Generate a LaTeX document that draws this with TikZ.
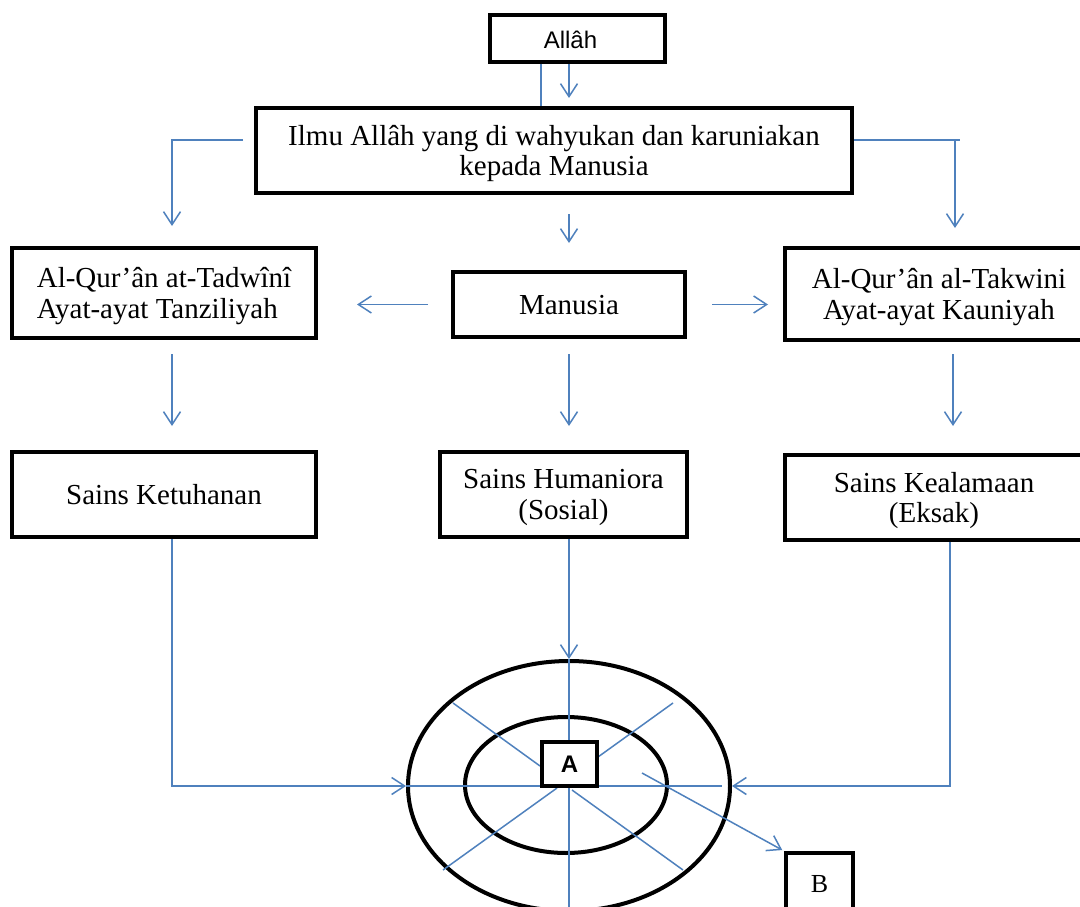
\documentclass[tikz,border=0pt]{standalone}
\usepackage{fontspec}
\setmainfont{Liberation Serif}
\newfontfamily\arialf{Liberation Sans}
\usetikzlibrary{arrows.meta,calc,shapes.geometric}
\definecolor{lineblue}{RGB}{79,129,189}
\begin{document}
\begin{tikzpicture}[x=1pt,y=-1pt,
  box/.style={draw=black,line width=4pt,inner sep=0pt,align=center,text depth=0pt,
    font=\fontsize{29}{30.5}\selectfont},
  ring/.style={draw=black,line width=4pt,ellipse,inner sep=0pt},
  bl/.style={draw=lineblue,line width=1.5pt},
  arr/.style={bl,-{Straight Barb[length=13pt,width=17pt,line width=1.5pt]}}]
\useasboundingbox (0,0) rectangle (1080,907);
\clip (0,0) rectangle (1080,907);
\fill[white] (0,0) rectangle (1080,907);

% boxes
\node[box,minimum width=175pt,minimum height=47pt,font=\arialf\fontsize{24}{28}\selectfont] (allah) at (577.5,38.5) {\hspace*{-14pt}\raisebox{-3pt}{Allâh}};
\node[box,minimum width=596pt,minimum height=85pt] (ilmu) at (554,150.5) {Ilmu Allâh yang di wahyukan dan karuniakan\\kepada Manusia};
\node[box,minimum width=304pt,minimum height=90pt,align=left] (tadwini) at (164,293) {Al-Qur’ân at-Tadwînî\\Ayat-ayat Tanziliyah};
\node[box,minimum width=232pt,minimum height=65pt] (manusia) at (569,304.5) {Manusia};
\node[box,minimum width=308pt,minimum height=92pt] (takwini) at (939,294) {Al-Qur’ân al-Takwini\\Ayat-ayat Kauniyah};
\node[box,minimum width=304pt,minimum height=85pt] (ketuhanan) at (164,494.5) {Sains Ketuhanan};
\node[box,minimum width=247pt,minimum height=85pt] (humaniora) at (563.5,494.5) {Sains Humaniora\\(Sosial)};
\node[box,minimum width=298pt,minimum height=85pt] (kealamaan) at (934,497.5) {Sains Kealamaan\\(Eksak)};
\node[box,minimum width=67pt,minimum height=66pt,font=\fontsize{26}{30}\selectfont] (B) at (819.5,886) {\raisebox{4pt}{B}};

% rings
\node[ring,minimum width=322pt,minimum height=250pt] (outer) at (569,786) {};
\node[ring,minimum width=202pt,minimum height=136pt] (inner) at (566,785) {};

% helper coordinates
\coordinate (xA) at (541,0);
\coordinate (xM) at (569,0);
\coordinate (xL) at (172,0);
\coordinate (xR) at (955,0);
\coordinate (xT) at (953,0);
\coordinate (xK) at (950,0);
\coordinate (yT) at (0,140);
\coordinate (l1) at (243,140);
\coordinate (r1) at (960,140);
\coordinate (bot) at (569,915);
\coordinate (hEnd) at (722,786);
\coordinate (d1a) at (453,703);
\coordinate (d1b) at (540,766);
\coordinate (d2a) at (673,703);
\coordinate (d2b) at (598,757);
\coordinate (d3a) at (557,788);
\coordinate (d3b) at (443,870);
\coordinate (d4a) at (572,790);
\coordinate (d4b) at (683,870);
\coordinate (bs) at (642,773);

% connectors, top part
\draw[bl] (allah.south -| xA) -- (ilmu.north -| xA);
\draw[arr,shorten >=8pt] (allah.south -| xM) -- (ilmu.north -| xM);
\draw[arr,shorten >=20pt] (l1) -| (tadwini.north -| xL);
\draw[bl] (ilmu.east |- yT) -- (r1);
\draw[arr,shorten >=18pt] (xR |- yT) -- (takwini.north -| xR);
\draw[arr,shorten <=19pt,shorten >=27pt] (ilmu.south -| xM) -- (manusia.north -| xM);
\draw[arr,shorten <=23pt,shorten >=39pt] (manusia.west) -- (tadwini.east |- manusia.west);
\draw[arr,shorten <=25pt,shorten >=15pt] (manusia.east) -- (takwini.west |- manusia.east);
\draw[arr,shorten <=14pt,shorten >=24pt] (tadwini.south -| xL) -- (ketuhanan.north -| xL);
\draw[arr,shorten <=15pt,shorten >=24pt] (manusia.south -| xM) -- (humaniora.north -| xM);
\draw[arr,shorten <=12pt,shorten >=27pt] (takwini.south -| xT) -- (kealamaan.north -| xT);

% connectors into rings
\draw[arr] (ketuhanan.south -| xL) |- (outer.west);
\draw[arr] (humaniora.south -| xM) -- (outer.north);
\draw[arr] (kealamaan.south -| xK) |- (outer.east);
\draw[bl] (outer.north) -- (bot);
\draw[bl] (outer.west) -- (hEnd);
\draw[bl] (d1a) -- (d1b);
\draw[bl] (d2a) -- (d2b);
\draw[bl] (d3a) -- (d3b);
\draw[bl] (d4a) -- (d4b);
\draw[arr,shorten >=2pt] (bs) -- (B.north west);

% centre box
\node[box,fill=white,minimum width=55pt,minimum height=44pt,font=\arialf\bfseries\fontsize{24}{28}\selectfont] (A) at (569.5,764) {\raisebox{-1pt}{A}};
\end{tikzpicture}
\end{document}
